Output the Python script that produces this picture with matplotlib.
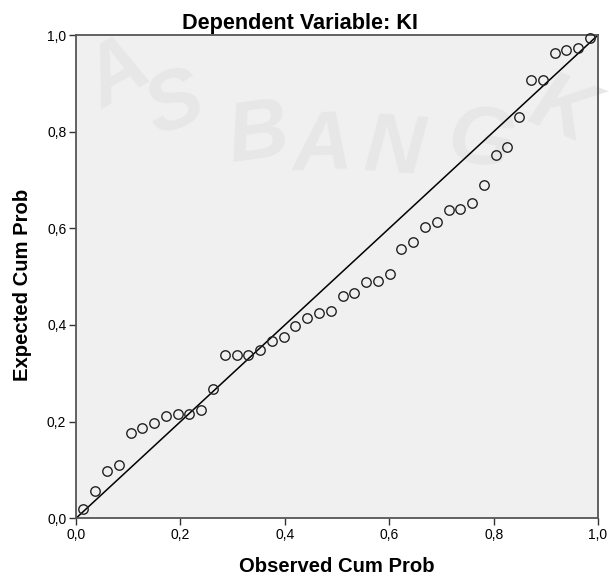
import matplotlib
matplotlib.use("Agg")
import matplotlib.pyplot as plt
from matplotlib.ticker import FixedLocator, FuncFormatter

plt.rcParams['font.family'] = ['Liberation Sans', 'DejaVu Sans']

title = "Dependent Variable: KI"
x_label = "Observed Cum Prob"
y_label = "Expected Cum Prob"

observed = [0.014, 0.037, 0.059, 0.082, 0.105, 0.127, 0.150, 0.172, 0.195, 0.217,
            0.240, 0.262, 0.285, 0.308, 0.330, 0.353, 0.375, 0.398, 0.420, 0.443,
            0.465, 0.488, 0.511, 0.533, 0.556, 0.578, 0.601, 0.623, 0.646, 0.668,
            0.691, 0.714, 0.736, 0.759, 0.781, 0.804, 0.826, 0.849, 0.872, 0.894,
            0.917, 0.939, 0.962, 0.984]
expected = [0.020, 0.057, 0.097, 0.110, 0.177, 0.187, 0.197, 0.212, 0.215, 0.215,
            0.224, 0.267, 0.337, 0.337, 0.337, 0.349, 0.366, 0.375, 0.398, 0.414,
            0.424, 0.428, 0.460, 0.467, 0.488, 0.492, 0.505, 0.557, 0.572, 0.603,
            0.614, 0.638, 0.641, 0.652, 0.690, 0.752, 0.769, 0.831, 0.906, 0.906,
            0.962, 0.970, 0.973, 0.993]
ref_line = [0.0, 1.0]
tick_values = [0.0, 0.2, 0.4, 0.6, 0.8, 1.0]

fig = plt.figure(figsize=(6.09, 5.78), dpi=100)
fig.patch.set_facecolor('white')
ax = fig.add_axes([0.1248, 0.1033, 0.8572, 0.8361])
ax.set_facecolor('#F0F0F0')

# faint watermark letters (decorative)
wm = [("A", 0.080, 0.917, 30), ("S", 0.190, 0.855, 20), ("B", 0.349, 0.791, 8),
      ("A", 0.471, 0.768, 2), ("N", 0.610, 0.762, -4), ("G", 0.775, 0.778, -12),
      ("K", 0.930, 0.840, -22)]
for ch, wx, wy, rot in wm:
    ax.text(wx, wy, ch, transform=ax.transAxes, fontsize=60, color='#E7E7E7',
            fontweight='bold', fontstyle='italic',
            ha='center', va='center', rotation=rot, zorder=0)

ax.plot(ref_line, ref_line, color='black', linewidth=1.1, zorder=2)
ax.plot(observed, expected, linestyle='none', marker='o', markersize=6.8,
        markerfacecolor='none', markeredgecolor='#222222', markeredgewidth=1.0,
        zorder=3, clip_on=False)

ax.set_xlim(0, 1)
ax.set_ylim(0, 1)
fmt = FuncFormatter(lambda v, p: f"{v:.1f}".replace('.', ','))
ax.xaxis.set_major_locator(FixedLocator(tick_values))
ax.yaxis.set_major_locator(FixedLocator(tick_values))
ax.xaxis.set_major_formatter(fmt)
ax.yaxis.set_major_formatter(fmt)
ax.tick_params(direction='out', length=5, width=1, colors='#333333',
               labelsize=10, labelcolor='black', pad=2)

for s in ax.spines.values():
    s.set_color('#555555')
    s.set_linewidth(1.3)

ax.set_xlabel(x_label, fontsize=14.6, fontweight='bold', labelpad=11)
ax.set_ylabel(y_label, fontsize=14.6, fontweight='bold')
ax.yaxis.set_label_coords(-0.0843, 0.482)

fig.text(300/609, 1 - 28.5/578, title, ha='center', va='baseline',
         fontsize=15.6, fontweight='bold')

fig.savefig('out.png', dpi=100)
